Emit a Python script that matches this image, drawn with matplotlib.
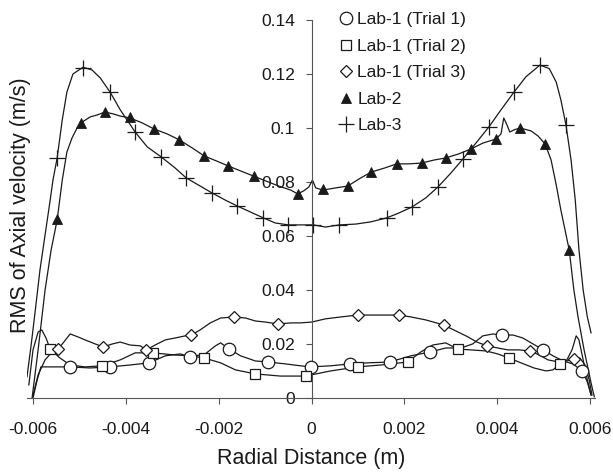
import matplotlib
matplotlib.use("Agg")
import matplotlib.pyplot as plt
from matplotlib.lines import Line2D

plt.rcParams['font.family'] = ['Liberation Sans', 'DejaVu Sans']

# ---------------- data (m, m/s) ----------------
# Lab-3 (+)
lab3_x = [-0.00613, -0.00604, -0.00595, -0.00585, -0.00574, -0.00563, -0.00557, -0.00548, -0.00537, -0.00527,
          -0.00514, -0.00492, -0.00473, -0.00455, -0.00434, -0.00412, -0.00380, -0.00354, -0.00324, -0.00294,
          -0.00270, -0.00240, -0.00214, -0.00186, -0.00160, -0.00132, -0.00104, -0.00078, -0.00050, -0.00024,
          0.00004, 0.00030, 0.00060, 0.00095, 0.00127, 0.00162, 0.00188, 0.00216, 0.00246, 0.00272,
          0.00300, 0.00326, 0.00354, 0.00382, 0.00408, 0.00436, 0.00462, 0.00492, 0.00512, 0.00527,
          0.00537, 0.00548, 0.00559, 0.00568, 0.00576, 0.00585, 0.00594, 0.00602]
lab3_y = [0.0078, 0.0196, 0.0326, 0.0474, 0.0604, 0.0733, 0.0807, 0.0889, 0.1030, 0.1133,
          0.1200, 0.1225, 0.1215, 0.1185, 0.1133, 0.1067, 0.0985, 0.0930, 0.0893, 0.0852,
          0.0815, 0.0785, 0.0759, 0.0733, 0.0711, 0.0689, 0.0667, 0.0648, 0.0641, 0.0641,
          0.0641, 0.0633, 0.0641, 0.0644, 0.0652, 0.0667, 0.0685, 0.0707, 0.0741, 0.0781,
          0.0833, 0.0885, 0.0944, 0.1004, 0.1067, 0.1133, 0.1190, 0.1233, 0.1220, 0.1170,
          0.1104, 0.1011, 0.0881, 0.0733, 0.0548, 0.0400, 0.0300, 0.0241]
lab3_mx = [-0.00548, -0.00492, -0.00434, -0.00380, -0.00324, -0.00270, -0.00214, -0.00160, -0.00104, -0.00050,
           0.00004, 0.00060, 0.00162, 0.00216, 0.00272, 0.00326, 0.00382, 0.00436, 0.00492, 0.00548]
lab3_my = [0.0889, 0.1222, 0.1133, 0.0985, 0.0893, 0.0815, 0.0759, 0.0711, 0.0667, 0.0641,
           0.0641, 0.0641, 0.0667, 0.0707, 0.0781, 0.0885, 0.1004, 0.1133, 0.1233, 0.1011]

# Lab-2 (filled triangles)
lab2_x = [-0.00602, -0.00589, -0.00574, -0.00561, -0.00548, -0.00537, -0.00527, -0.00516, -0.00505, -0.00494,
          -0.00477, -0.00462, -0.00445, -0.00427, -0.00412, -0.00391, -0.00365, -0.00339, -0.00311, -0.00285,
          -0.00257, -0.00231, -0.00205, -0.00179, -0.00153, -0.00125, -0.00099, -0.00071, -0.00045, -0.00030,
          -0.00017, -0.00006, 0.00002, 0.00009, 0.00024, 0.00052, 0.00078, 0.00106, 0.00129, 0.00158,
          0.00183, 0.00209, 0.00237, 0.00263, 0.00289, 0.00317, 0.00343, 0.00369, 0.00397, 0.00408,
          0.00414, 0.00421, 0.00427, 0.00436, 0.00449, 0.00473, 0.00488, 0.00503, 0.00516, 0.00527,
          0.00537, 0.00555, 0.00565, 0.00574, 0.00587, 0.00602, 0.00609]
lab2_y = [0.0000, 0.0178, 0.0400, 0.0548, 0.0659, 0.0807, 0.0911, 0.0963, 0.1000, 0.1022,
          0.1041, 0.1048, 0.1059, 0.1052, 0.1044, 0.1037, 0.1019, 0.0996, 0.0978, 0.0956,
          0.0926, 0.0896, 0.0878, 0.0859, 0.0841, 0.0822, 0.0804, 0.0785, 0.0770, 0.0756,
          0.0767, 0.0781, 0.0807, 0.0778, 0.0770, 0.0778, 0.0785, 0.0815, 0.0837, 0.0852,
          0.0867, 0.0867, 0.0870, 0.0881, 0.0889, 0.0904, 0.0922, 0.0944, 0.0959, 0.0978,
          0.1037, 0.1011, 0.0985, 0.0993, 0.1000, 0.0989, 0.0970, 0.0941, 0.0881, 0.0789,
          0.0696, 0.0548, 0.0400, 0.0300, 0.0178, 0.0056, 0.0004]
lab2_mx = [-0.00548, -0.00496, -0.00445, -0.00391, -0.00339, -0.00285, -0.00231, -0.00179, -0.00125, -0.00030,
           0.00024, 0.00078, 0.00129, 0.00183, 0.00237, 0.00289, 0.00343, 0.00397, 0.00449, 0.00503, 0.00555]
lab2_my = [0.0663, 0.1019, 0.1059, 0.1041, 0.0996, 0.0956, 0.0896, 0.0859, 0.0822, 0.0756,
           0.0774, 0.0785, 0.0837, 0.0867, 0.0870, 0.0889, 0.0922, 0.0959, 0.1000, 0.0941, 0.0548]

# Lab-1 Trial 1 (open circles)
t1_x = [-0.00600, -0.00591, -0.00583, -0.00563, -0.00520, -0.00477, -0.00434, -0.00391, -0.00350, -0.00315,
        -0.00283, -0.00261, -0.00229, -0.00207, -0.00196, -0.00177, -0.00153, -0.00121, -0.00093, -0.00056,
        -0.00024, -0.00002, 0.00041, 0.00082, 0.00121, 0.00168, 0.00214, 0.00255, 0.00289, 0.00322,
        0.00347, 0.00369, 0.00391, 0.00410, 0.00434, 0.00455, 0.00477, 0.00499, 0.00520, 0.00542,
        0.00563, 0.00583, 0.00594, 0.00602]
t1_y = [0.0000, 0.0067, 0.0115, 0.0115, 0.0115, 0.0111, 0.0115, 0.0122, 0.0130, 0.0156,
        0.0163, 0.0152, 0.0163, 0.0193, 0.0204, 0.0181, 0.0156, 0.0137, 0.0133, 0.0126,
        0.0119, 0.0115, 0.0119, 0.0126, 0.0130, 0.0133, 0.0156, 0.0170, 0.0185, 0.0185,
        0.0200, 0.0230, 0.0237, 0.0233, 0.0233, 0.0222, 0.0200, 0.0178, 0.0156, 0.0137,
        0.0126, 0.0100, 0.0059, 0.0011]
t1_mx = [-0.00520, -0.00434, -0.00350, -0.00261, -0.00177, -0.00093, -0.00002, 0.00082, 0.00168, 0.00255,
         0.00410, 0.00499, 0.00583]
t1_my = [0.0115, 0.0115, 0.0130, 0.0152, 0.0181, 0.0133, 0.0115, 0.0126, 0.0133, 0.0170,
         0.0233, 0.0178, 0.0100]

# Lab-1 Trial 2 (open squares)
t2_x = [-0.00609, -0.00600, -0.00589, -0.00581, -0.00572, -0.00563, -0.00542, -0.00520, -0.00488, -0.00451,
        -0.00412, -0.00380, -0.00341, -0.00294, -0.00261, -0.00231, -0.00196, -0.00164, -0.00121, -0.00067,
        -0.00013, 0.00041, 0.00099, 0.00149, 0.00207, 0.00235, 0.00261, 0.00289, 0.00315, 0.00343,
        0.00376, 0.00401, 0.00425, 0.00451, 0.00479, 0.00505, 0.00520, 0.00535, 0.00550, 0.00561,
        0.00570, 0.00576, 0.00585, 0.00594, 0.00602]
t2_y = [0.0048, 0.0178, 0.0244, 0.0252, 0.0222, 0.0181, 0.0148, 0.0122, 0.0115, 0.0119,
        0.0141, 0.0167, 0.0167, 0.0159, 0.0156, 0.0148, 0.0130, 0.0104, 0.0089, 0.0081,
        0.0081, 0.0100, 0.0115, 0.0122, 0.0133, 0.0170, 0.0196, 0.0204, 0.0181, 0.0178,
        0.0174, 0.0163, 0.0148, 0.0130, 0.0111, 0.0100, 0.0104, 0.0126, 0.0141, 0.0178,
        0.0230, 0.0215, 0.0141, 0.0067, 0.0011]
t2_mx = [-0.00563, -0.00451, -0.00341, -0.00231, -0.00121, -0.00013, 0.00099, 0.00207, 0.00315, 0.00425, 0.00535]
t2_my = [0.0181, 0.0119, 0.0167, 0.0148, 0.0089, 0.0081, 0.0115, 0.0133, 0.0181, 0.0148, 0.0126]

# Lab-1 Trial 3 (open diamonds)
t3_x = [-0.00600, -0.00589, -0.00574, -0.00559, -0.00546, -0.00535, -0.00520, -0.00503, -0.00488, -0.00466,
        -0.00449, -0.00429, -0.00412, -0.00391, -0.00369, -0.00356, -0.00337, -0.00315, -0.00294, -0.00272,
        -0.00259, -0.00240, -0.00218, -0.00196, -0.00168, -0.00142, -0.00121, -0.00099, -0.00073, -0.00045,
        -0.00024, 0.00000, 0.00030, 0.00063, 0.00099, 0.00138, 0.00188, 0.00214, 0.00246, 0.00285,
        0.00311, 0.00337, 0.00356, 0.00378, 0.00401, 0.00423, 0.00447, 0.00471, 0.00494, 0.00509,
        0.00533, 0.00550, 0.00565, 0.00578, 0.00589, 0.00598, 0.00604]
t3_y = [0.0011, 0.0085, 0.0141, 0.0170, 0.0181, 0.0204, 0.0237, 0.0226, 0.0215, 0.0200,
        0.0189, 0.0200, 0.0207, 0.0196, 0.0193, 0.0178, 0.0196, 0.0215, 0.0222, 0.0230,
        0.0233, 0.0252, 0.0278, 0.0296, 0.0300, 0.0296, 0.0285, 0.0281, 0.0274, 0.0278,
        0.0278, 0.0281, 0.0293, 0.0300, 0.0307, 0.0307, 0.0307, 0.0300, 0.0289, 0.0270,
        0.0248, 0.0226, 0.0207, 0.0193, 0.0185, 0.0178, 0.0178, 0.0174, 0.0156, 0.0141,
        0.0133, 0.0137, 0.0144, 0.0148, 0.0122, 0.0067, 0.0011]
t3_mx = [-0.00546, -0.00449, -0.00356, -0.00259, -0.00168, -0.00073, 0.00099, 0.00188, 0.00285, 0.00378,
         0.00471, 0.00565]
t3_my = [0.0181, 0.0189, 0.0178, 0.0233, 0.0300, 0.0274, 0.0307, 0.0307, 0.0270, 0.0193, 0.0174, 0.0144]

series_labels = ["Lab-1 (Trial 1)", "Lab-1 (Trial 2)", "Lab-1 (Trial 3)", "Lab-2", "Lab-3"]
x_ticks = [-0.006, -0.004, -0.002, 0, 0.002, 0.004, 0.006]
x_ticklabels = ["-0.006", "-0.004", "-0.002", "0", "0.002", "0.004", "0.006"]
y_ticks = [0, 0.02, 0.04, 0.06, 0.08, 0.1, 0.12, 0.14]
y_ticklabels = ["0", "0.02", "0.04", "0.06", "0.08", "0.1", "0.12", "0.14"]

# ---------------- plot ----------------
INK = "#1a1a1a"
fig = plt.figure(figsize=(6.13, 4.76), dpi=100)
ax = fig.add_axes([0.044, 0.164, 0.927, 0.794])

lw = 0.9
for xs, ys in [(t1_x, t1_y), (t2_x, t2_y), (t3_x, t3_y), (lab2_x, lab2_y), (lab3_x, lab3_y)]:
    ax.plot(xs, ys, color=INK, lw=lw, zorder=2)

mk = dict(color="none", linestyle="none", zorder=3)
ax.plot(t1_mx, t1_my, marker="o", ms=9, mfc="white", mec=INK, mew=0.9, **mk)
ax.plot(t2_mx, t2_my, marker="s", ms=7.5, mfc="white", mec=INK, mew=0.9, **mk)
ax.plot(t3_mx, t3_my, marker="D", ms=6.5, mfc="white", mec=INK, mew=0.9, **mk)
ax.plot(lab2_mx, lab2_my, marker="^", ms=7, mfc=INK, mec=INK, mew=0.6, **mk)
ax.plot(lab3_mx, lab3_my, marker="+", ms=11, mec=INK, mew=0.9, **mk)

ax.set_xlim(-0.00613, 0.00611)
ax.set_ylim(0, 0.14)

ax.spines['left'].set_position(('data', 0))
ax.spines['bottom'].set_position(('data', 0))
ax.spines['top'].set_visible(False)
ax.spines['right'].set_visible(False)
for s in ('left', 'bottom'):
    ax.spines[s].set_color("#555555")
    ax.spines[s].set_linewidth(0.8)

ax.set_xticks(x_ticks)
ax.set_xticklabels(x_ticklabels)
ax.set_yticks(y_ticks)
ax.set_yticklabels(y_ticklabels)
ax.tick_params(axis='x', direction='out', length=4, width=0.8, color="#555555",
               labelsize=12.5, pad=13, labelcolor=INK)
ax.tick_params(axis='y', direction='out', length=4, width=0.8, color="#555555",
               labelsize=12.5, pad=8, labelcolor=INK)
ax.patch.set_visible(False)

fig.text(0.034, 0.569, "RMS of Axial velocity (m/s)", rotation=90, ha='center', va='center',
         fontsize=15.5, color=INK)
fig.text(0.507, 0.036, "Radial Distance (m)", ha='center', va='center', fontsize=15.5, color=INK)

handles = [
    Line2D([], [], linestyle="none", marker="o", ms=9, mfc="white", mec=INK, mew=0.9),
    Line2D([], [], linestyle="none", marker="s", ms=7.5, mfc="white", mec=INK, mew=0.9),
    Line2D([], [], linestyle="none", marker="D", ms=6.5, mfc="white", mec=INK, mew=0.9),
    Line2D([], [], linestyle="none", marker="^", ms=7, mfc=INK, mec=INK, mew=0.6),
    Line2D([], [], linestyle="none", marker="+", ms=11, mec=INK, mew=0.9),
]
leg = fig.legend(handles, series_labels, loc='upper left', bbox_to_anchor=(0.553, 0.975),
                 frameon=False, fontsize=12.5, handlelength=0.8, handletextpad=0.25,
                 labelspacing=0.66, borderpad=0, borderaxespad=0)
for t in leg.get_texts():
    t.set_color(INK)

fig.savefig("out.png", dpi=100)
